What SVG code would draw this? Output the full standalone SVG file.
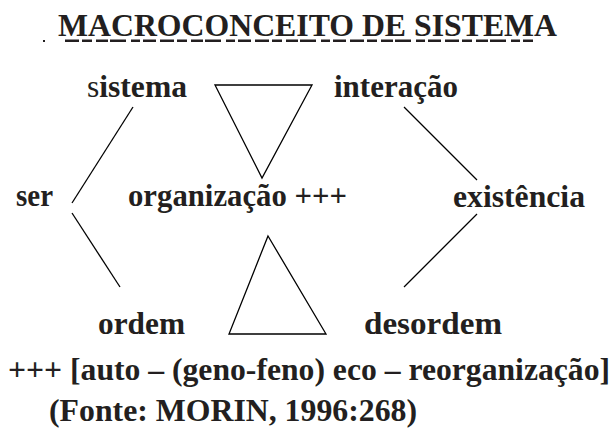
<svg xmlns="http://www.w3.org/2000/svg" width="616" height="433" viewBox="0 0 616 433">
  <style>
    .t { font-family: "Liberation Serif", "Times New Roman", serif; font-weight: bold; fill: #231f20; }
    .n { font-size: 31px; }
    .ln { stroke: #000; stroke-width: 1.3; fill: none; }
    .tri { stroke: #000; stroke-width: 1.3; fill: #fff; stroke-linejoin: miter; }
    .strip { stroke: #231f20; stroke-width: 2.5; fill: none; stroke-dasharray: 14 3 10 4 12 2 16 5 9 3 13 4; }
  </style>
  <rect width="616" height="433" fill="#fff"/>

  <g id="title">
    <text class="t" x="58" y="36" font-size="32" textLength="499" lengthAdjust="spacingAndGlyphs">MACROCONCEITO DE SISTEMA</text>
    <line class="strip" x1="65" y1="40.8" x2="533" y2="40.8"/>
    <rect x="43" y="40" width="2" height="2" fill="#231f20"/>
  </g>

  <g id="connectors">
    <line class="ln" x1="133" y1="107" x2="72" y2="203"/>
    <line class="ln" x1="404" y1="107" x2="477" y2="180"/>
    <line class="ln" x1="72" y1="213" x2="120" y2="287"/>
    <line class="ln" x1="477" y1="214" x2="404" y2="287"/>
  </g>

  <g id="triangle-down">
    <polygon class="tri" points="215,85 312,85 262,178"/>
  </g>
  <g id="triangle-up">
    <polygon class="tri" points="268,236 326,334 229,334"/>
  </g>

  <g id="node-sistema">
    <text class="t n" x="87" y="97" textLength="100" lengthAdjust="spacingAndGlyphs"><tspan font-weight="normal">s</tspan>istema</text>
  </g>
  <g id="node-interacao">
    <text class="t n" x="334" y="97" textLength="124" lengthAdjust="spacingAndGlyphs">interação</text>
  </g>
  <g id="node-ser">
    <text class="t n" x="16" y="206" textLength="37" lengthAdjust="spacingAndGlyphs">ser</text>
  </g>
  <g id="node-organizacao">
    <text class="t n" x="128" y="206" textLength="219" lengthAdjust="spacingAndGlyphs">organização +++</text>
  </g>
  <g id="node-existencia">
    <text class="t n" x="453" y="207" textLength="132" lengthAdjust="spacingAndGlyphs">existência</text>
  </g>
  <g id="node-ordem">
    <text class="t n" x="98" y="334" textLength="87" lengthAdjust="spacingAndGlyphs">ordem</text>
  </g>
  <g id="node-desordem">
    <text class="t n" x="364" y="334" textLength="138" lengthAdjust="spacingAndGlyphs">desordem</text>
  </g>

  <g id="legend">
    <text class="t n" x="8" y="380" textLength="602" lengthAdjust="spacingAndGlyphs">+++ [auto – (geno-feno) eco – reorganização]</text>
  </g>
  <g id="source">
    <text class="t n" x="49" y="421" textLength="368" lengthAdjust="spacingAndGlyphs">(Fonte: MORIN, 1996:268)</text>
  </g>
</svg>
